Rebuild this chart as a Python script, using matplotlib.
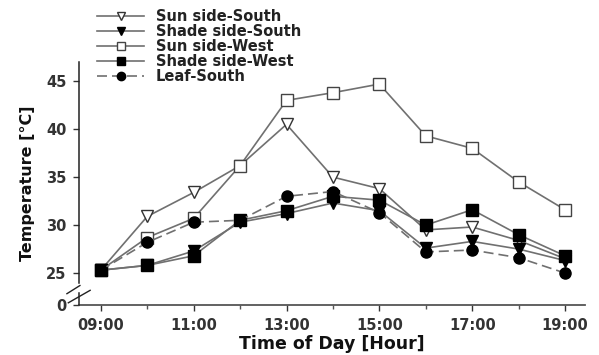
import matplotlib
matplotlib.use("Agg")
import matplotlib.pyplot as plt
from matplotlib.ticker import FixedLocator

hours = [9, 10, 11, 12, 13, 14, 15, 16, 17, 18, 19]
x_tick_labels = ["09:00", "11:00", "13:00", "15:00", "17:00", "19:00"]
x_label_hours = [9, 11, 13, 15, 17, 19]

sun_south = [25.3, 30.9, 33.4, 36.2, 40.5, 35.0, 33.8, 29.5, 29.8, 28.4, 26.5]
shade_south = [25.3, 25.8, 27.3, 30.3, 31.2, 32.3, 31.5, 27.6, 28.3, 27.5, 26.3]
sun_west = [25.3, 28.7, 30.7, 36.2, 43.0, 43.8, 44.7, 39.3, 38.0, 34.5, 31.6]
shade_west = [25.3, 25.8, 26.8, 30.5, 31.5, 33.0, 32.6, 30.0, 31.6, 29.0, 26.8]
leaf_south = [25.3, 28.2, 30.3, 30.5, 33.0, 33.5, 31.3, 27.2, 27.4, 26.6, 25.0]

series_names = ["Sun side-South", "Shade side-South", "Sun side-West",
                "Shade side-West", "Leaf-South"]
y_ticks = [25, 30, 35, 40, 45]
y_zero_label = "0"

fig = plt.figure(figsize=(5.99, 3.55), dpi=100)
ax = fig.add_axes([79/599, 50/355, 506/599, 243/355])

y_bottom = 21.67
ax.set_xlim(8.53, 19.43)
ax.set_ylim(y_bottom, 47.0)

lc = "#707070"
styles = [
    dict(marker="v", mfc="white", mec="#333333", ls="-"),
    dict(marker="v", mfc="black", mec="black", ls="-"),
    dict(marker="s", mfc="white", mec="#444444", ls="-"),
    dict(marker="s", mfc="black", mec="black", ls="-"),
    dict(marker="o", mfc="black", mec="black", ls=(0, (6, 3))),
]
data = [sun_south, shade_south, sun_west, shade_west, leaf_south]
handles = []
for name, vals, st in zip(series_names, data, styles):
    h, = ax.plot(hours, vals, color=lc, lw=1.2, ms=8, mew=1.0,
                 label=name, zorder=3, **st)
    handles.append(h)

for s in ["top", "right"]:
    ax.spines[s].set_visible(False)
ax.spines["left"].set_bounds(24.0, 47.0)
ax.spines["left"].set_color("#222222")
ax.spines["bottom"].set_color("#555555")
ax.spines["left"].set_linewidth(1.1)
ax.spines["bottom"].set_linewidth(1.3)

ax.plot([8.53, 8.53], [y_bottom, 22.9], color="#222222", lw=1.1,
        clip_on=False, zorder=4)
ax.plot([8.27, 8.55], [22.85, 23.7], color="#222222", lw=1.0,
        clip_on=False, zorder=4)
ax.plot([8.30, 8.77], [21.9, 23.2], color="#222222", lw=1.0,
        clip_on=False, zorder=4)

ax.set_yticks([y_bottom] + y_ticks)
ax.set_yticklabels([y_zero_label] + [str(v) for v in y_ticks])
ax.xaxis.set_major_locator(FixedLocator(x_label_hours))
ax.set_xticklabels(x_tick_labels)
ax.xaxis.set_minor_locator(FixedLocator([h for h in hours if h not in x_label_hours]))

ax.tick_params(axis="both", which="major", length=4, width=1.0,
               colors="#333333", labelsize=10.5, pad=5)
ax.tick_params(axis="x", which="minor", length=3, width=1.0, colors="#555555")
for lab in ax.get_xticklabels() + ax.get_yticklabels():
    lab.set_fontweight("bold")
    lab.set_color("#333333")

ax.set_xlabel("Time of Day [Hour]", fontsize=12.5, fontweight="bold",
              color="#111111", labelpad=2)
ax.set_ylabel("Temperature [°C]", fontsize=11.5, fontweight="bold",
              color="#111111", labelpad=8)

leg = fig.legend(handles=handles, loc="upper left",
                 bbox_to_anchor=(88/599, 1.0), frameon=False,
                 fontsize=10.5, handlelength=3.2, handletextpad=0.8,
                 labelspacing=0.0, borderpad=0.15, markerscale=0.75)
for t in leg.get_texts():
    t.set_fontweight("bold")
    t.set_color("#222222")

fig.savefig("out.png", dpi=100)
